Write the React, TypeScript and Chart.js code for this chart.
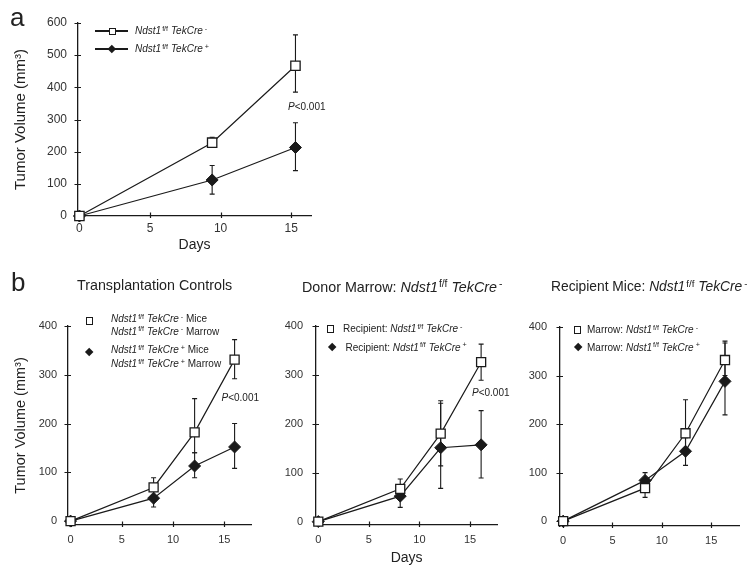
import React, { useEffect, useRef } from 'react';
import { Chart, registerables } from 'chart.js';

Chart.register(...registerables);

const FONT = "'Liberation Sans', Arial, Helvetica, sans-serif";
const INK = '#1a1a1a';
const TXT = '#222';

// ---------- data (days, mean tumour volume mm3, error bar low/high) ----------
const DAYS_A = [0, 9.4, 15.3];
const A_NEG = [0, 228, 467];
const A_NEG_LO = [0, 214, 385];
const A_NEG_HI = [0, 245, 563];
const A_POS = [0, 112, 213];
const A_POS_LO = [0, 68, 141];
const A_POS_HI = [0, 157, 290];

const DAYS_B1 = [0, 8.1, 12.1, 16.0];
const B1_NEG = [0, 69, 182, 331];
const B1_NEG_LO = [0, 52, 140, 292];
const B1_NEG_HI = [0, 89, 251, 372];
const B1_POS = [0, 47, 113, 152];
const B1_POS_LO = [0, 29, 89, 108];
const B1_POS_HI = [0, 65, 140, 200];

const DAYS_B2 = [0, 8.1, 12.1, 16.1];
const B2_NEG = [0, 67, 180, 326];
const B2_NEG_LO = [0, 50, 114, 289];
const B2_NEG_HI = [0, 87, 247, 363];
const B2_POS = [0, 52, 151, 157];
const B2_POS_LO = [0, 29, 68, 89];
const B2_POS_HI = [0, 70, 242, 227];

const DAYS_B3 = [0, 8.3, 12.4, 16.4];
const B3_NEG = [0, 68, 181, 332];
const B3_NEG_LO = [0, 49, 140, 300];
const B3_NEG_HI = [0, 85, 250, 371];
const B3_POS = [0, 84, 144, 288];
const B3_POS_LO = [0, 66, 115, 219];
const B3_POS_HI = [0, 100, 172, 367];

// tick labels
const X_TICKS = [0, 5, 10, 15];
const Y_TICKS_A = [0, 100, 200, 300, 400, 500, 600];
const Y_TICKS_B = [0, 100, 200, 300, 400];
const Y_TITLE = 'Tumor Volume (mm\u00B3)';
const X_TITLE = 'Days';

// ---------- plugins ----------
const errorBarPlugin = {
  id: 'errorBars',
  beforeDatasetsDraw(chart: any) {
    const { ctx, scales } = chart;
    const xs = scales.x, ys = scales.y;
    ctx.save();
    ctx.strokeStyle = INK;
    ctx.lineWidth = 1.1;
    chart.data.datasets.forEach((ds: any) => {
      ds.data.forEach((p: any, i: number) => {
        const lo = ds.errLo[i], hi = ds.errHi[i];
        if (lo === hi) return;
        const px = xs.getPixelForValue(p.x);
        const pl = ys.getPixelForValue(lo);
        const ph = ys.getPixelForValue(hi);
        ctx.beginPath();
        ctx.moveTo(px, pl); ctx.lineTo(px, ph);
        ctx.moveTo(px - 2.5, pl); ctx.lineTo(px + 2.5, pl);
        ctx.moveTo(px - 2.5, ph); ctx.lineTo(px + 2.5, ph);
        ctx.stroke();
      });
    });
    ctx.restore();
  },
};

const tickMarkPlugin = {
  id: 'tickMarks',
  beforeDatasetsDraw(chart: any) {
    const { ctx, chartArea, scales } = chart;
    const xs = scales.x, ys = scales.y;
    ctx.save();
    ctx.strokeStyle = INK;
    ctx.lineWidth = 1.2;
    ctx.beginPath();
    xs.ticks.forEach((t: any) => {
      const px = Math.round(xs.getPixelForValue(t.value)) + 0.5;
      ctx.moveTo(px, chartArea.bottom - 3.5);
      ctx.lineTo(px, chartArea.bottom + 2);
    });
    ys.ticks.forEach((t: any) => {
      const py = Math.round(ys.getPixelForValue(t.value)) + 0.5;
      ctx.moveTo(chartArea.left - 3.5, py);
      ctx.lineTo(chartArea.left + 3, py);
    });
    ctx.stroke();
    ctx.restore();
  },
};

type Spec = {
  left: number; top: number; w: number; h: number;
  yWidth: number; xHeight: number; padTop: number; padRight: number;
  xMin: number; xMax: number; yMin: number; yMax: number; yTicks: number[];
  tickFont: number; yPad: number; xPad: number;
  yTitle: boolean; yTitleFont: number; yTitlePad: number;
  xTitle: boolean; xTitleFont: number; xTitlePad: number;
  days: number[];
  neg: number[]; negLo: number[]; negHi: number[];
  pos: number[]; posLo: number[]; posHi: number[];
  sqR: number; diaR: number;
};

function buildConfig(s: Spec): any {
  const pts = (vals: number[]) => s.days.map((d, i) => ({ x: d, y: vals[i] }));
  return {
    type: 'line',
    data: {
      datasets: [
        {
          label: 'TekCre-',
          data: pts(s.neg),
          errLo: s.negLo, errHi: s.negHi,
          borderColor: INK, borderWidth: 1.2,
          pointStyle: 'rect', pointRadius: s.sqR,
          pointBackgroundColor: '#fff', pointBorderColor: INK, pointBorderWidth: 1.3,
          fill: false, tension: 0, clip: false,
        },
        {
          label: 'TekCre+',
          data: pts(s.pos),
          errLo: s.posLo, errHi: s.posHi,
          borderColor: INK, borderWidth: 1.2,
          pointStyle: 'rectRot', pointRadius: s.diaR,
          pointBackgroundColor: INK, pointBorderColor: INK, pointBorderWidth: 1,
          fill: false, tension: 0, clip: false,
        },
      ],
    },
    options: {
      responsive: false,
      animation: false,
      events: [],
      layout: { padding: { top: s.padTop, right: s.padRight, left: 0, bottom: 0 } },
      plugins: { legend: { display: false }, tooltip: { enabled: false } },
      scales: {
        x: {
          type: 'linear', min: s.xMin, max: s.xMax,
          afterFit: (sc: any) => { sc.height = s.xHeight; },
          afterBuildTicks: (sc: any) => { sc.ticks = X_TICKS.map((v) => ({ value: v })); },
          grid: { display: true, drawOnChartArea: false, drawTicks: false },
          border: { display: true, color: INK, width: 1.3 },
          ticks: { padding: s.xPad, color: '#333', font: { family: FONT, size: s.tickFont } },
          title: { display: s.xTitle, text: X_TITLE, color: TXT, font: { family: FONT, size: s.xTitleFont }, padding: { top: 0, bottom: s.xTitlePad } },
        },
        y: {
          type: 'linear', min: s.yMin, max: s.yMax,
          afterFit: (sc: any) => { sc.width = s.yWidth; },
          afterBuildTicks: (sc: any) => { sc.ticks = s.yTicks.map((v) => ({ value: v })); },
          grid: { display: true, drawOnChartArea: false, drawTicks: false },
          border: { display: true, color: INK, width: 1.3 },
          ticks: { padding: s.yPad, color: '#333', font: { family: FONT, size: s.tickFont } },
          title: { display: s.yTitle, text: Y_TITLE, color: TXT, font: { family: FONT, size: s.yTitleFont }, padding: { top: s.yTitlePad, bottom: 0 } },
        },
      },
    },
    plugins: [errorBarPlugin, tickMarkPlugin],
  };
}

const SPEC_A: Spec = {
  left: 0, top: 0, w: 330, h: 262, yWidth: 78, xHeight: 46, padTop: 23, padRight: 19,
  xMin: -0.1, xMax: 16.4, yMin: 0, yMax: 600, yTicks: Y_TICKS_A, tickFont: 12, yPad: 11, xPad: 5,
  yTitle: true, yTitleFont: 15, yTitlePad: 12, xTitle: true, xTitleFont: 14, xTitlePad: 8,
  days: DAYS_A, neg: A_NEG, negLo: A_NEG_LO, negHi: A_NEG_HI, pos: A_POS, posLo: A_POS_LO, posHi: A_POS_HI,
  sqR: 6.6, diaR: 6,
};
const SPEC_B1: Spec = {
  left: 0, top: 290, w: 260, h: 277, yWidth: 68, xHeight: 42, padTop: 36, padRight: 9,
  xMin: -0.25, xMax: 17.6, yMin: -8, yMax: 400, yTicks: Y_TICKS_B, tickFont: 11, yPad: 11, xPad: 8,
  yTitle: true, yTitleFont: 14.5, yTitlePad: 12.5, xTitle: false, xTitleFont: 14, xTitlePad: 0,
  days: DAYS_B1, neg: B1_NEG, negLo: B1_NEG_LO, negHi: B1_NEG_HI, pos: B1_POS, posLo: B1_POS_LO, posHi: B1_POS_HI,
  sqR: 6.4, diaR: 6,
};
const SPEC_B2: Spec = {
  left: 258, top: 290, w: 247, h: 277, yWidth: 58, xHeight: 42, padTop: 36, padRight: 7,
  xMin: -0.23, xMax: 17.7, yMin: -7, yMax: 400, yTicks: Y_TICKS_B, tickFont: 11, yPad: 13, xPad: 8,
  yTitle: false, yTitleFont: 14, yTitlePad: 0, xTitle: true, xTitleFont: 14, xTitlePad: 0,
  days: DAYS_B2, neg: B2_NEG, negLo: B2_NEG_LO, negHi: B2_NEG_HI, pos: B2_POS, posLo: B2_POS_LO, posHi: B2_POS_HI,
  sqR: 6.4, diaR: 6,
};
const SPEC_B3: Spec = {
  left: 505, top: 290, w: 242, h: 277, yWidth: 55, xHeight: 41, padTop: 37, padRight: 2,
  xMin: -0.32, xMax: 17.85, yMin: -10, yMax: 400, yTicks: Y_TICKS_B, tickFont: 11, yPad: 13, xPad: 8,
  yTitle: false, yTitleFont: 14, yTitlePad: 0, xTitle: false, xTitleFont: 14, xTitlePad: 0,
  days: DAYS_B3, neg: B3_NEG, negLo: B3_NEG_LO, negHi: B3_NEG_HI, pos: B3_POS, posLo: B3_POS_LO, posHi: B3_POS_HI,
  sqR: 6.4, diaR: 6,
};

function PanelChart({ spec }: { spec: Spec }) {
  const ref = useRef<HTMLCanvasElement>(null);
  useEffect(() => {
    const chart = new Chart(ref.current as HTMLCanvasElement, buildConfig(spec));
    return () => chart.destroy();
  }, [spec]);
  return (
    <canvas
      ref={ref}
      width={spec.w}
      height={spec.h}
      style={{ position: 'absolute', left: spec.left, top: spec.top, width: spec.w, height: spec.h }}
    />
  );
}

// ---------- text overlays ----------
const Sup = ({ children, ml = 1 }: { children: React.ReactNode; ml?: number }) => (
  <span style={{ fontSize: '0.72em', position: 'relative', top: '-0.45em', fontStyle: 'normal', marginLeft: ml }}>{children}</span>
);

const Gene = ({ sign }: { sign: string }) => (
  <>
    <i>Ndst1</i><Sup>f/f</Sup> <i>TekCre</i><Sup ml={2}>{sign}</Sup>
  </>
);

const Txt = ({ x, base, size, children }: { x: number; base: number; size: number; children: React.ReactNode }) => (
  <div
    style={{
      position: 'absolute', left: x, top: base - 0.8465 * size, fontSize: size, lineHeight: 1,
      whiteSpace: 'nowrap', fontFamily: FONT, color: TXT,
    }}
  >
    {children}
  </div>
);

const Square = ({ cx, cy, s }: { cx: number; cy: number; s: number }) => (
  <div style={{ position: 'absolute', left: cx - s / 2, top: cy - s / 2, width: s, height: s, boxSizing: 'border-box', border: `1.3px solid ${INK}`, background: '#fff' }} />
);
const Diamond = ({ cx, cy, d }: { cx: number; cy: number; d: number }) => {
  const s = d / Math.SQRT2;
  return <div style={{ position: 'absolute', left: cx - s / 2, top: cy - s / 2, width: s, height: s, background: INK, transform: 'rotate(45deg)' }} />;
};
const HLine = ({ x1, x2, y }: { x1: number; x2: number; y: number }) => (
  <div style={{ position: 'absolute', left: x1, top: y - 0.6, width: x2 - x1, height: 1.2, background: INK }} />
);

const PVal = ({ x, base }: { x: number; base: number }) => (
  <Txt x={x} base={base} size={10}><i>P</i>&lt;0.001</Txt>
);

export default function App() {
  return (
    <div style={{ position: 'absolute', left: 0, top: 0, width: 747, height: 567, background: '#fff', overflow: 'hidden', fontFamily: FONT }}>
      <PanelChart spec={SPEC_A} />
      <PanelChart spec={SPEC_B1} />
      <PanelChart spec={SPEC_B2} />
      <PanelChart spec={SPEC_B3} />

      {/* panel a */}
      <Txt x={10} base={26} size={26}>a</Txt>
      <HLine x1={95} x2={128} y={31} />
      <Square cx={112} cy={31} s={7} />
      <Txt x={135} base={34.5} size={10}><Gene sign="-" /></Txt>
      <HLine x1={95} x2={128} y={49} />
      <Diamond cx={112} cy={49} d={8} />
      <Txt x={135} base={52.5} size={10}><Gene sign="+" /></Txt>
      <PVal x={288} base={110.5} />

      {/* panel b */}
      <Txt x={11} base={291.5} size={26}>b</Txt>
      <Txt x={77} base={290.5} size={14.3}>Transplantation Controls</Txt>
      <Txt x={302} base={292} size={14.3}>Donor Marrow: <Gene sign="-" /></Txt>
      <Txt x={551} base={292} size={13.8}>Recipient Mice: <Gene sign="-" /></Txt>

      <Square cx={89.3} cy={321} s={7.5} />
      <Txt x={111} base={322.5} size={10}><Gene sign="-" /> Mice</Txt>
      <Txt x={111} base={335} size={10}><Gene sign="-" /> Marrow</Txt>
      <Diamond cx={89} cy={352.3} d={9} />
      <Txt x={111} base={353.5} size={10}><Gene sign="+" /> Mice</Txt>
      <Txt x={111} base={367.5} size={10}><Gene sign="+" /> Marrow</Txt>
      <PVal x={221.5} base={401.5} />

      <Square cx={330.7} cy={329} s={7.5} />
      <Txt x={343} base={332.5} size={10}>Recipient: <Gene sign="-" /></Txt>
      <Diamond cx={331.7} cy={347.3} d={9} />
      <Txt x={345.5} base={351} size={10}>Recipient: <Gene sign="+" /></Txt>
      <PVal x={472} base={396} />

      <Square cx={577.7} cy={330} s={7.5} />
      <Txt x={587} base={333.5} size={10}>Marrow: <Gene sign="-" /></Txt>
      <Diamond cx={577.7} cy={347.3} d={9} />
      <Txt x={587} base={351} size={10}>Marrow: <Gene sign="+" /></Txt>
    </div>
  );
}
